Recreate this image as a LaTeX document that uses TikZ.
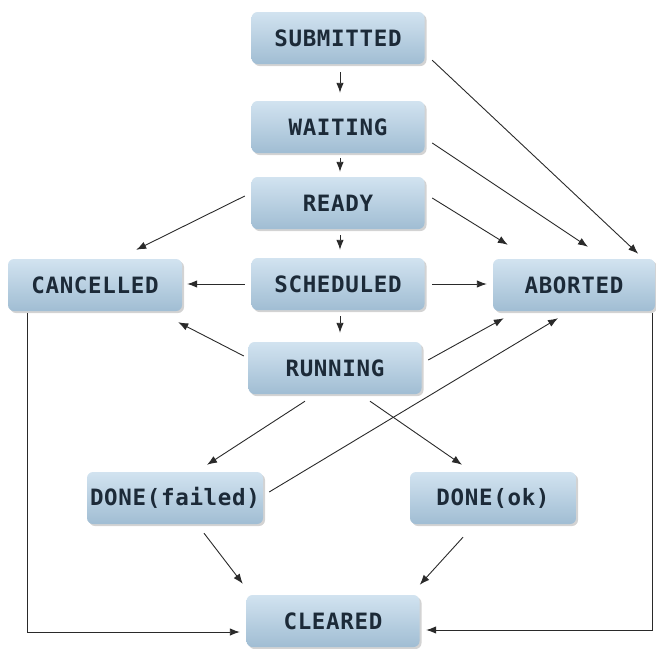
\documentclass[tikz,border=0pt]{standalone}
\usepackage{fontspec}
\newfontfamily\boxfont[LetterSpace=3]{DejaVu Sans Mono Bold}
\usetikzlibrary{arrows.meta,calc,shadows}
\definecolor{boxtop}{HTML}{D2E3F0}
\definecolor{boxbot}{HTML}{A0BDD3}
\definecolor{boxtext}{HTML}{1C2A38}
\definecolor{linecol}{HTML}{2A2A2A}
\begin{document}
\begin{tikzpicture}[x=1pt,y=-1pt,
  state/.style={rounded corners=6pt, top color=boxtop, bottom color=boxbot,
    draw=none, minimum height=52pt, inner sep=0pt, text=boxtext,
    font=\boxfont\fontsize{22.5}{26}\selectfont,
    drop shadow={opacity=0.35, shadow xshift=2pt, shadow yshift=-2pt}},
  arr/.style={draw=linecol, line width=0.9pt, -{Latex[length=10pt,width=7.5pt]}}]
\useasboundingbox (0,0) rectangle (656,648);
\node[state, minimum width=173pt] (sub) at (338,38) {SUBMITTED};
\node[state, minimum width=173pt] (wait) at (338,127) {WAITING};
\node[state, minimum width=173pt] (ready) at (338,203) {READY};
\node[state, minimum width=173pt] (sched) at (338,284) {SCHEDULED};
\node[state, minimum width=173pt] (run) at (335,368) {RUNNING};
\node[state, minimum width=174pt] (canc) at (95,285) {CANCELLED};
\node[state, minimum width=162pt] (abor) at (574,285) {ABORTED};
\node[state, minimum width=176pt] (fail) at (175,498) {DONE(failed)};
\node[state, minimum width=166pt] (ok) at (493,498) {DONE(ok)};
\node[state, minimum width=173pt] (clr) at (333,621) {CLEARED};

\draw[arr] ($(sub.south)+(2,8)$) -- ($(wait.north)+(2,-8)$);
\draw[arr] ($(wait.south)+(2,5)$) -- ($(ready.north)+(2,-5)$);
\draw[arr] ($(ready.south)+(2,6)$) -- ($(sched.north)+(2,-8)$);
\draw[arr] ($(sched.south)+(2,6)$) -- ($(run.north)+(5,-9)$);

\draw[arr] ($(sub.south east)+(7.5,-4)$) -- ($(abor.north east)+(-17,-5)$);
\draw[arr] ($(wait.east)+(7.5,16)$) -- ($(abor.north)+(14,-12)$);
\draw[arr] ($(ready.east)+(7.5,-5)$) -- ($(abor.north west)+(15,-14)$);
\draw[arr] ($(ready.west)+(-6.5,-7)$) -- ($(canc.north east)+(-46,-9)$);
\draw[arr] ($(sched.west)+(-6.5,0)$) -- ($(canc.east)+(5,-1)$);
\draw[arr] ($(sched.east)+(7.5,0)$) -- ($(abor.west)+(-6,-1)$);
\draw[arr] ($(run.west)+(-4.5,-12)$) -- ($(canc.south east)+(-4,11)$);
\draw[arr] ($(run.east)+(6.5,-8)$) -- ($(abor.south west)+(11,7)$);
\draw[arr] ($(run.south)+(-30,7)$) -- ($(fail.north)+(32,-7)$);
\draw[arr] ($(run.south)+(35,7)$) -- ($(ok.north)+(-31,-7)$);
\draw[arr] ($(fail.east)+(6,-6)$) -- ($(abor.south)+(-16,7)$);
\draw[arr] ($(fail.south)+(29,9)$) -- ($(clr.north west)+(-3.5,-11)$);
\draw[arr] ($(ok.south)+(-30,13)$) -- ($(clr.north east)+(0,-10)$);
\draw[arr] ($(canc.south west)+(20,2)$) |- ($(clr.west)+(-6.5,11)$);
\draw[arr] ($(abor.south east)+(-3,2)$) |- ($(clr.east)+(6.5,9)$);
\end{tikzpicture}
\end{document}
